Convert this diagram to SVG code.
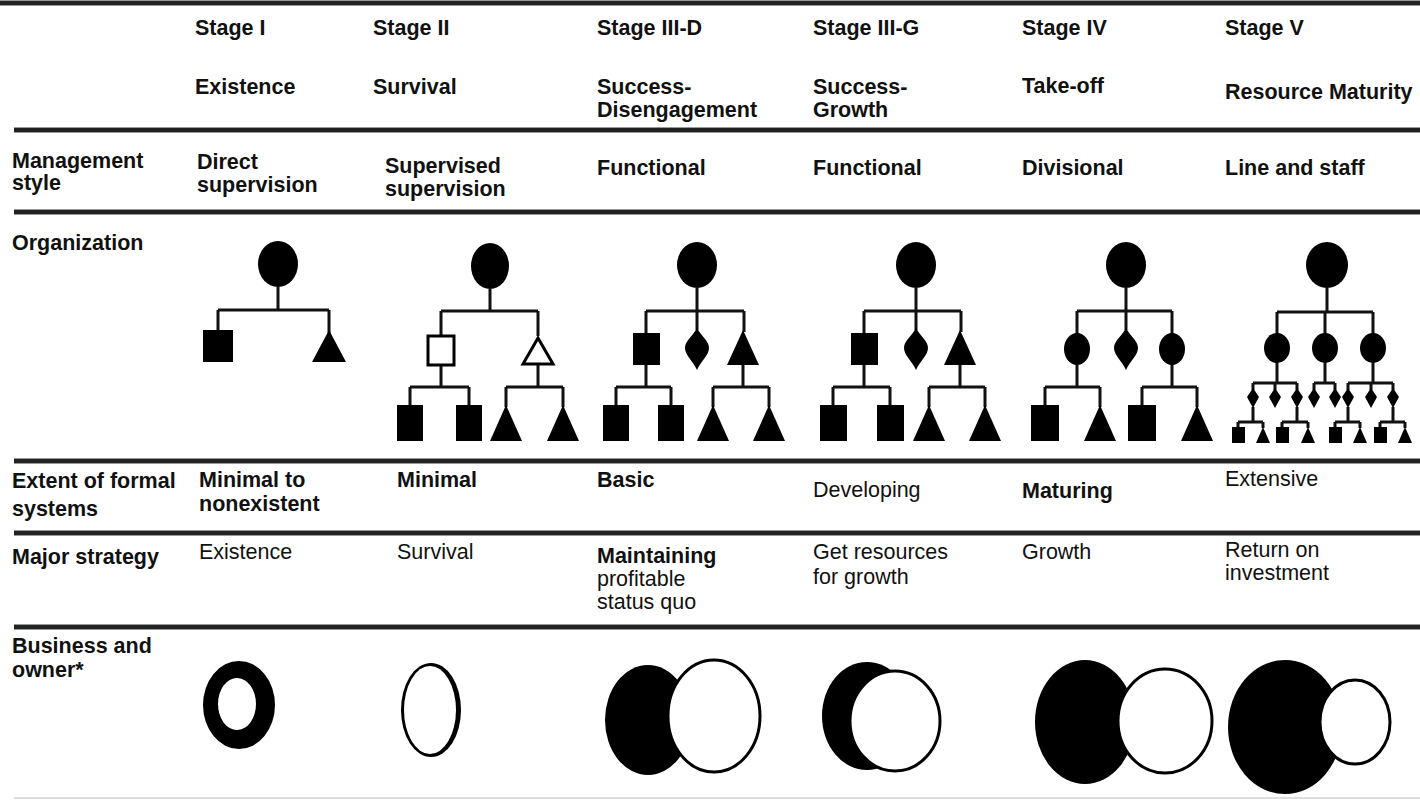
<svg xmlns="http://www.w3.org/2000/svg" width="1420" height="801" viewBox="0 0 1420 801">
<style>
  text { font-family: "Liberation Sans", Arial, sans-serif; font-size: 21.5px; font-weight: bold; fill: #111; }
  .lt { font-weight: normal; }
  .rule { stroke: #222; stroke-width: 4; }
  .rule2 { stroke: #999; stroke-width: 6; }
  .c { stroke: #111; stroke-width: 3; fill: none; }
  .f { fill: #000; }
  .h { fill: #fff; stroke: #000; stroke-width: 3; }
</style>
<defs>
  <path id="dia" d="M0 -21 C5 -12 12 -8 12 -1 C12 6 4 12 0 21 C-4 12 -12 6 -12 -1 C-12 -8 -5 -12 0 -21 Z"/>
  <path id="dias" d="M0 -10 L6 -1 L0 10 L-6 -1 Z"/>
</defs>
<rect width="1420" height="801" fill="#fff"/>

<g id="rules">
  <line class="rule2" x1="0" y1="3" x2="1420" y2="3"/>
  <line class="rule" x1="0" y1="3" x2="1420" y2="3"/>
  <line class="rule2" x1="14" y1="130" x2="1420" y2="130"/>
  <line class="rule" x1="14" y1="130" x2="1420" y2="130"/>
  <line class="rule2" x1="14" y1="212" x2="1420" y2="212"/>
  <line class="rule" x1="14" y1="212" x2="1420" y2="212"/>
  <line class="rule2" x1="14" y1="461" x2="1420" y2="461"/>
  <line class="rule" x1="14" y1="461" x2="1420" y2="461"/>
  <line class="rule2" x1="14" y1="533" x2="1420" y2="533"/>
  <line class="rule" x1="14" y1="533" x2="1420" y2="533"/>
  <line class="rule2" x1="14" y1="627" x2="1420" y2="627"/>
  <line class="rule" x1="14" y1="627" x2="1420" y2="627"/>
  <line x1="14" y1="798" x2="1420" y2="798" stroke="#ddd" stroke-width="2"/>
</g>

<g id="header">
  <text x="195" y="35">Stage I</text>
  <text x="373" y="35">Stage II</text>
  <text x="597" y="35">Stage III-D</text>
  <text x="813" y="35">Stage III-G</text>
  <text x="1022" y="35">Stage IV</text>
  <text x="1225" y="35">Stage V</text>
  <text x="195" y="94">Existence</text>
  <text x="373" y="94">Survival</text>
  <text x="597" y="94">Success-</text>
  <text x="597" y="117">Disengagement</text>
  <text x="813" y="94">Success-</text>
  <text x="813" y="117">Growth</text>
  <text x="1022" y="93">Take-off</text>
  <text x="1225" y="99">Resource Maturity</text>
</g>

<g id="row-labels">
  <text x="12" y="168">Management</text>
  <text x="12" y="190">style</text>
  <text x="12" y="250">Organization</text>
  <text x="12" y="488">Extent of formal</text>
  <text x="12" y="516">systems</text>
  <text x="12" y="564">Major strategy</text>
  <text x="12" y="653">Business and</text>
  <text x="12" y="677">owner*</text>
</g>

<g id="management-style">
  <text x="197" y="169">Direct</text>
  <text x="197" y="192">supervision</text>
  <text x="385" y="173">Supervised</text>
  <text x="385" y="196">supervision</text>
  <text x="597" y="175">Functional</text>
  <text x="813" y="175">Functional</text>
  <text x="1022" y="175">Divisional</text>
  <text x="1225" y="175">Line and staff</text>
</g>

<g id="formal-systems">
  <text x="199" y="487">Minimal to</text>
  <text x="199" y="511">nonexistent</text>
  <text x="397" y="487">Minimal</text>
  <text x="597" y="487">Basic</text>
  <text x="813" y="497" class="lt">Developing</text>
  <text x="1022" y="498">Maturing</text>
  <text x="1225" y="486" class="lt">Extensive</text>
</g>

<g id="major-strategy">
  <text x="199" y="559" class="lt">Existence</text>
  <text x="397" y="559" class="lt">Survival</text>
  <text x="597" y="563">Maintaining</text>
  <text x="597" y="586" class="lt">profitable</text>
  <text x="597" y="609" class="lt">status quo</text>
  <text x="813" y="559" class="lt">Get resources</text>
  <text x="813" y="584" class="lt">for growth</text>
  <text x="1022" y="559" class="lt">Growth</text>
  <text x="1225" y="557" class="lt">Return on</text>
  <text x="1225" y="580" class="lt">investment</text>
</g>

<g id="connectors" class="c">
  <!-- Stage I -->
  <path d="M278 287V310 M218 310H329 M218 310V330 M329 310V333"/>
  <!-- Stage II -->
  <path d="M490 289V311 M441 311H538 M441 311V336 M538 311V336 M441 365V387 M410 387H469 M410 387V405 M469 387V405 M538 364V387 M506 387H563 M506 387V407 M563 387V407"/>
  <!-- Stage III-D -->
  <path d="M697 288V311 M646 311H744 M646 311V333 M697 311V330 M744 311V332 M646 365V387 M616 387H671 M616 387V405 M671 387V405 M743 365V387 M713 387H769 M713 387V407 M769 387V407"/>
  <!-- Stage III-G -->
  <path d="M916 288V311 M864 311H961 M864 311V333 M916 311V330 M961 311V332 M864 365V387 M833 387H890 M833 387V405 M890 387V405 M960 365V387 M929 387H985 M929 387V407 M985 387V407"/>
  <!-- Stage IV -->
  <path d="M1126 288V311 M1077 311H1172 M1077 311V334 M1126 311V330 M1172 311V334 M1077 364V387 M1045 387H1100 M1045 387V405 M1100 387V407 M1172 364V387 M1142 387H1197 M1142 387V405 M1197 387V407"/>
  <!-- Stage V -->
  <path d="M1327 288V312 M1277 312H1373 M1277 312V334 M1325 312V334 M1373 312V334"/>
  <path d="M1277 362V383 M1253 383H1297 M1253 383V390 M1275 383V390 M1297 383V390 M1325 362V383 M1314 383H1335 M1314 383V390 M1335 383V390 M1373 362V383 M1348 383H1393 M1348 383V390 M1371 383V390 M1393 383V390"/>
  <path d="M1253 407V422 M1238 422H1263 M1238 422V428 M1263 422V428 M1297 407V422 M1282 422H1308 M1282 422V428 M1308 422V428 M1348 407V422 M1335 422H1360 M1335 422V428 M1360 422V428 M1393 407V422 M1380 422H1405 M1380 422V428 M1405 422V428"/>
</g>

<g id="org-stage1">
  <ellipse id="s1-top" class="f" cx="278" cy="264" rx="20" ry="23"/>
  <rect id="s1-sq" class="f" x="203" y="330" width="30" height="32"/>
  <polygon id="s1-tri" class="f" points="329,330 346,362 312,362"/>
</g>

<g id="org-stage2">
  <ellipse id="s2-top" class="f" cx="490" cy="266" rx="19" ry="23"/>
  <rect id="s2-sq" class="h" x="428" y="336" width="26" height="29"/>
  <polygon id="s2-tri" class="h" points="538,338 553,364 523,364"/>
  <rect id="s2-sq1" class="f" x="397" y="405" width="26" height="36"/>
  <rect id="s2-sq2" class="f" x="456" y="405" width="26" height="36"/>
  <polygon id="s2-tri1" class="f" points="506,405 522,441 490,441"/>
  <polygon id="s2-tri2" class="f" points="563,405 579,441 547,441"/>
</g>

<g id="org-stage3d">
  <ellipse id="s3d-top" class="f" cx="697" cy="265" rx="20" ry="23"/>
  <rect id="s3d-sq" class="f" x="633" y="333" width="27" height="32"/>
  <use id="s3d-dia" href="#dia" x="697" y="349"/>
  <polygon id="s3d-tri" class="f" points="743,330 759,365 727,365"/>
  <rect id="s3d-sq1" class="f" x="603" y="405" width="26" height="36"/>
  <rect id="s3d-sq2" class="f" x="658" y="405" width="26" height="36"/>
  <polygon id="s3d-tri1" class="f" points="713,405 729,441 697,441"/>
  <polygon id="s3d-tri2" class="f" points="769,405 785,441 753,441"/>
</g>

<g id="org-stage3g">
  <ellipse id="s3g-top" class="f" cx="916" cy="265" rx="20" ry="23"/>
  <rect id="s3g-sq" class="f" x="851" y="333" width="27" height="32"/>
  <use id="s3g-dia" href="#dia" x="916" y="349"/>
  <polygon id="s3g-tri" class="f" points="960,330 976,365 944,365"/>
  <rect id="s3g-sq1" class="f" x="820" y="405" width="27" height="36"/>
  <rect id="s3g-sq2" class="f" x="877" y="405" width="27" height="36"/>
  <polygon id="s3g-tri1" class="f" points="929,405 945,441 913,441"/>
  <polygon id="s3g-tri2" class="f" points="985,405 1001,441 969,441"/>
</g>

<g id="org-stage4">
  <ellipse id="s4-top" class="f" cx="1126" cy="265" rx="20" ry="23"/>
  <ellipse id="s4-c1" class="f" cx="1077" cy="349" rx="13" ry="16"/>
  <use id="s4-dia" href="#dia" x="1126" y="349"/>
  <ellipse id="s4-c2" class="f" cx="1172" cy="349" rx="13" ry="16"/>
  <rect id="s4-sq1" class="f" x="1031" y="405" width="28" height="36"/>
  <polygon id="s4-tri1" class="f" points="1100,405 1116,441 1084,441"/>
  <rect id="s4-sq2" class="f" x="1128" y="405" width="28" height="36"/>
  <polygon id="s4-tri2" class="f" points="1197,405 1213,441 1181,441"/>
</g>

<g id="org-stage5">
  <ellipse id="s5-top" class="f" cx="1327" cy="265" rx="21" ry="23"/>
  <ellipse id="s5-c1" class="f" cx="1277" cy="348" rx="13" ry="15"/>
  <ellipse id="s5-c2" class="f" cx="1325" cy="348" rx="13" ry="15"/>
  <ellipse id="s5-c3" class="f" cx="1373" cy="348" rx="13" ry="15"/>
  <use id="s5-d1" href="#dias" x="1253" y="398"/>
  <use id="s5-d2" href="#dias" x="1275" y="398"/>
  <use id="s5-d3" href="#dias" x="1297" y="398"/>
  <use id="s5-d4" href="#dias" x="1314" y="398"/>
  <use id="s5-d5" href="#dias" x="1335" y="398"/>
  <use id="s5-d6" href="#dias" x="1348" y="398"/>
  <use id="s5-d7" href="#dias" x="1371" y="398"/>
  <use id="s5-d8" href="#dias" x="1393" y="398"/>
  <rect id="s5-q1" class="f" x="1232" y="427" width="13" height="16"/>
  <polygon id="s5-t1" class="f" points="1263,427 1270,443 1256,443"/>
  <rect id="s5-q2" class="f" x="1276" y="427" width="13" height="16"/>
  <polygon id="s5-t2" class="f" points="1308,427 1315,443 1301,443"/>
  <rect id="s5-q3" class="f" x="1329" y="427" width="13" height="16"/>
  <polygon id="s5-t3" class="f" points="1360,427 1367,443 1353,443"/>
  <rect id="s5-q4" class="f" x="1374" y="427" width="13" height="16"/>
  <polygon id="s5-t4" class="f" points="1405,427 1412,443 1398,443"/>
</g>

<g id="owner-stage1">
  <path class="f" fill-rule="evenodd" d="M203 705 A36 44 0 1 0 275 705 A36 44 0 1 0 203 705 Z M218 704 A19 26 0 1 0 256 704 A19 26 0 1 0 218 704 Z"/>
</g>
<g id="owner-stage2">
  <ellipse class="f" cx="431" cy="710" rx="30" ry="47"/>
  <ellipse fill="#fff" cx="430" cy="710" rx="26" ry="44"/>
</g>
<g id="owner-stage3d">
  <ellipse class="f" cx="648" cy="720" rx="43" ry="55"/>
  <ellipse class="h" cx="714" cy="716" rx="46" ry="56"/>
</g>
<g id="owner-stage3g">
  <ellipse class="f" cx="867" cy="716" rx="45" ry="54"/>
  <ellipse class="h" cx="895" cy="721" rx="45" ry="50"/>
</g>
<g id="owner-stage4">
  <ellipse class="f" cx="1085" cy="722" rx="50" ry="62"/>
  <ellipse class="h" cx="1165" cy="721" rx="47" ry="52"/>
</g>
<g id="owner-stage5">
  <ellipse class="f" cx="1285" cy="727" rx="57" ry="67"/>
  <ellipse class="h" cx="1355" cy="722" rx="35" ry="42"/>
</g>
</svg>
